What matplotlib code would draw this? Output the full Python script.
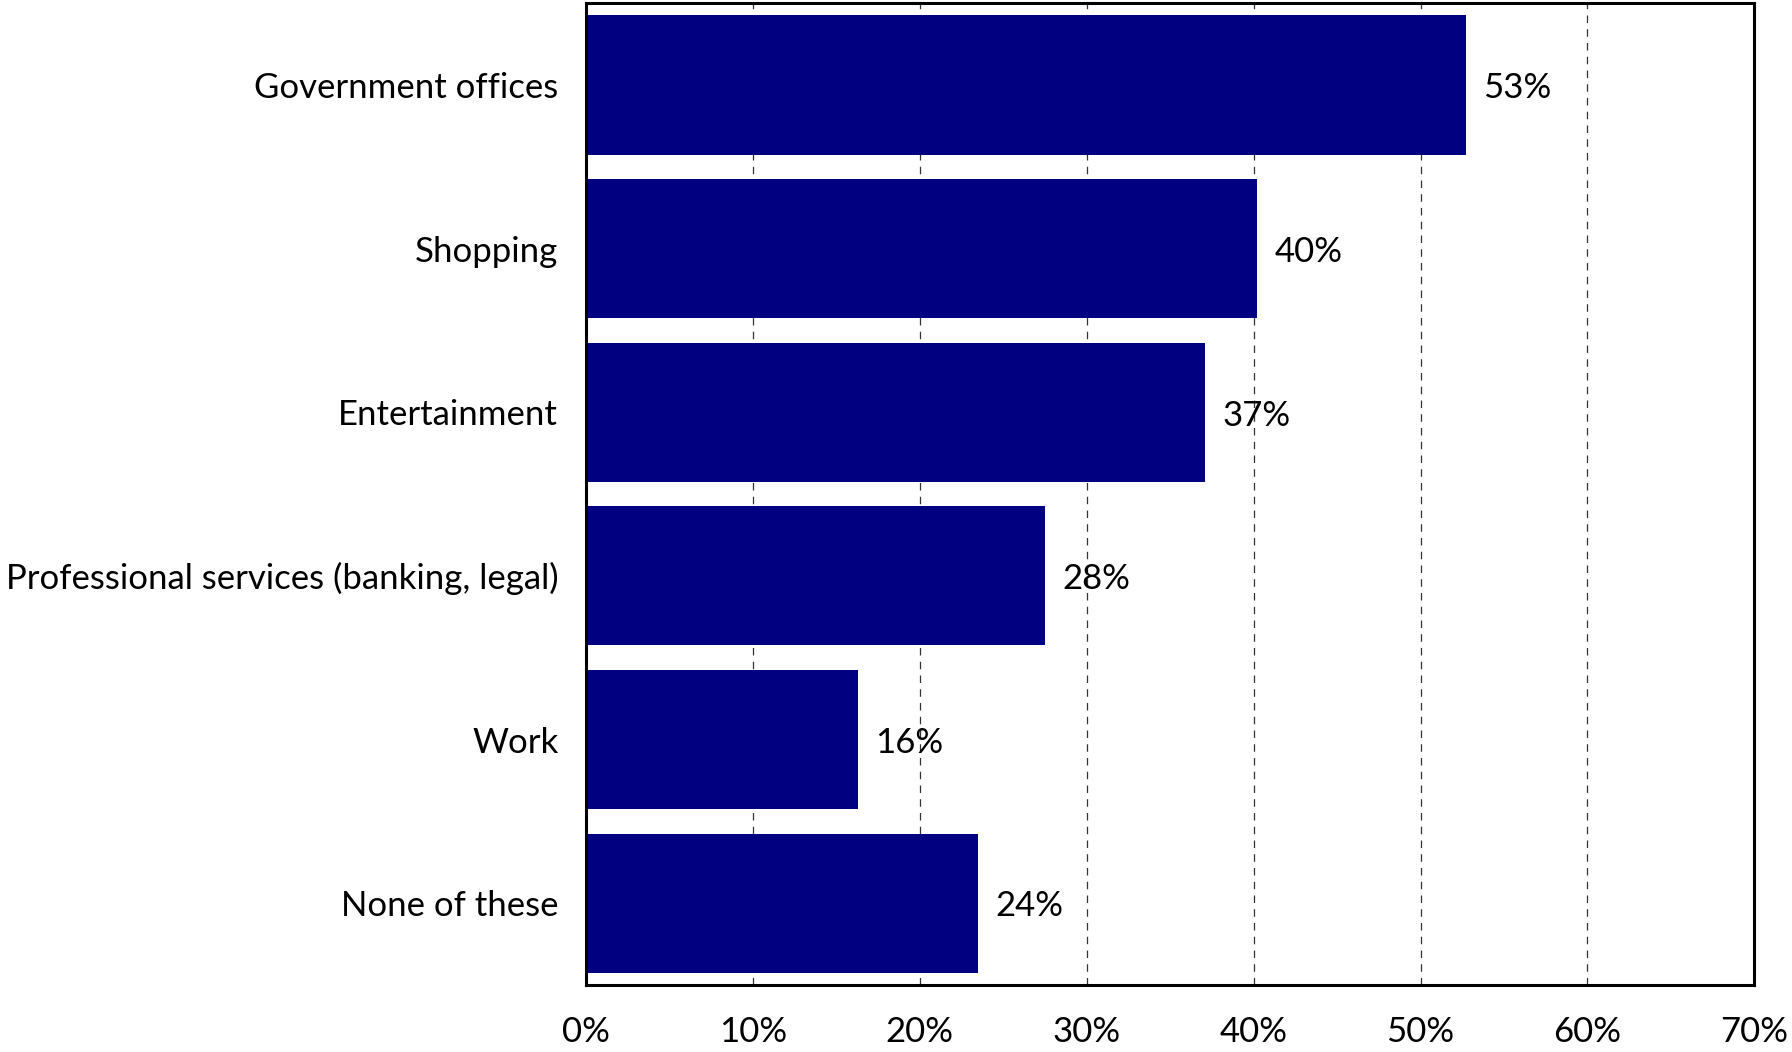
import matplotlib
matplotlib.use("Agg")
import matplotlib.pyplot as plt
from matplotlib.ticker import FuncFormatter

categories = ["Government offices", "Shopping", "Entertainment",
              "Professional services (banking, legal)", "Work", "None of these"]
values = [52.7, 40.2, 37.1, 27.5, 16.3, 23.5]
value_labels = ["53%", "40%", "37%", "28%", "16%", "24%"]
xticks = [0, 10, 20, 30, 40, 50, 60, 70]

plt.rcParams['font.family'] = ['Lato', 'DejaVu Sans']

fig = plt.figure(figsize=(17.92, 10.52), dpi=100)
ax = fig.add_axes([0.327, 0.0637, 0.652, 0.9333])

ypos = list(range(len(categories)))
ax.barh(ypos, values, height=0.85, color="#000080", zorder=2)
ax.set_ylim(len(categories) - 0.5, -0.5)
ax.set_xlim(0, 70)
ax.set_yticks(ypos)
ax.set_yticklabels(categories)
ax.set_xticks(xticks)
ax.xaxis.set_major_formatter(FuncFormatter(lambda v, p: f"{v:.0f}%"))
ax.tick_params(axis='both', length=0, labelsize=25)
ax.tick_params(axis='x', pad=22)
ax.tick_params(axis='y', pad=20)

for x in xticks[1:-1]:
    ax.axvline(x, color="#333333", linestyle=(0, (6, 5)), linewidth=0.9, zorder=1)

for y, v, lab in zip(ypos, values, value_labels):
    ax.text(v + 1.05, y + 0.02, lab, va='center', ha='left', fontsize=25)

for s in ax.spines.values():
    s.set_linewidth(2.2)
    s.set_color("black")

fig.savefig("out.png", dpi=100)
